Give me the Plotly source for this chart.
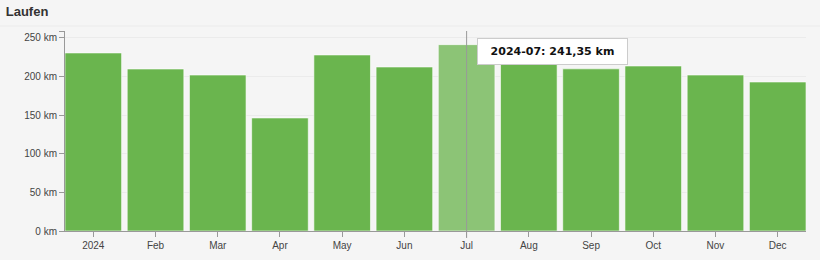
import plotly.graph_objects as go

months = ["Jan", "Feb", "Mar", "Apr", "May", "Jun", "Jul", "Aug", "Sep", "Oct", "Nov", "Dec"]
tick_labels = ["2024", "Feb", "Mar", "Apr", "May", "Jun", "Jul", "Aug", "Sep", "Oct", "Nov", "Dec"]
distance_km = [230.6, 209.8, 202.0, 146.4, 228.0, 212.4, 241.35, 227.0, 210.0, 213.7, 202.0, 193.0]
y_ticks = [0, 50, 100, 150, 200, 250]
y_tick_labels = [f"{v} km" for v in y_ticks]
y_max = 259
highlight = "Jul"

base_col = "#6ab54e"
hi_col = "#8cc476"
colors = [hi_col if m == highlight else base_col for m in months]
gap = 0.09

fig = go.Figure()
fig.add_trace(go.Bar(
    x=months, y=distance_km,
    marker=dict(color=colors, line=dict(color="rgba(255,255,255,0.6)", width=1)),
    hoverinfo="skip",
))

hi_idx = months.index(highlight)
fig.add_shape(type="line", xref="x", yref="paper", x0=highlight, x1=highlight,
              y0=-0.035, y1=1, line=dict(color="#999999", width=1))
# faint line across the top of the chart area
fig.add_shape(type="line", xref="paper", yref="paper", x0=-0.09, x1=1.02,
              y0=1.025, y1=1.025, line=dict(color="#ebebeb", width=1))

fig.add_annotation(
    x=highlight, y=250.5, xref="x", yref="y", xanchor="left", yanchor="top",
    xshift=10, showarrow=False, width=137, align="center",
    text=f"<b>2024-07: {str(distance_km[hi_idx]).replace('.', ',')} km</b>",
    font=dict(family="DejaVu Sans", size=11, color="#111111"),
    bgcolor="#ffffff", bordercolor="#cccccc", borderwidth=1, borderpad=6,
)

fig.update_layout(
    width=820, height=260,
    margin=dict(l=65, r=14, t=31, b=29),
    paper_bgcolor="#f5f5f5", plot_bgcolor="#f5f5f5",
    bargap=gap, showlegend=False,
    font=dict(family="Liberation Sans, Arial", size=10, color="#444444"),
    title=dict(text="<b>Laufen</b>", x=0.007, xanchor="left", y=0.955, yanchor="middle",
               font=dict(family="Liberation Sans, Arial", size=13, color="#333333")),
    xaxis=dict(type="category", tickmode="array", tickvals=months, ticktext=tick_labels,
               showline=True, linecolor="#999999", linewidth=1, ticks="outside",
               ticklen=5, tickcolor="#999999", showgrid=False, zeroline=False,
               range=[-0.5 + gap / 2, 11.5 - gap / 2], automargin=False),
    yaxis=dict(range=[0, y_max], tickvals=y_ticks + [y_max], ticktext=y_tick_labels + [""],
               showline=True, linecolor="#999999", linewidth=1, ticks="outside",
               ticklen=5, tickcolor="#999999", showgrid=True, gridcolor="#ebebeb",
               zeroline=False, automargin=False),
)

fig.write_html("out.html")
